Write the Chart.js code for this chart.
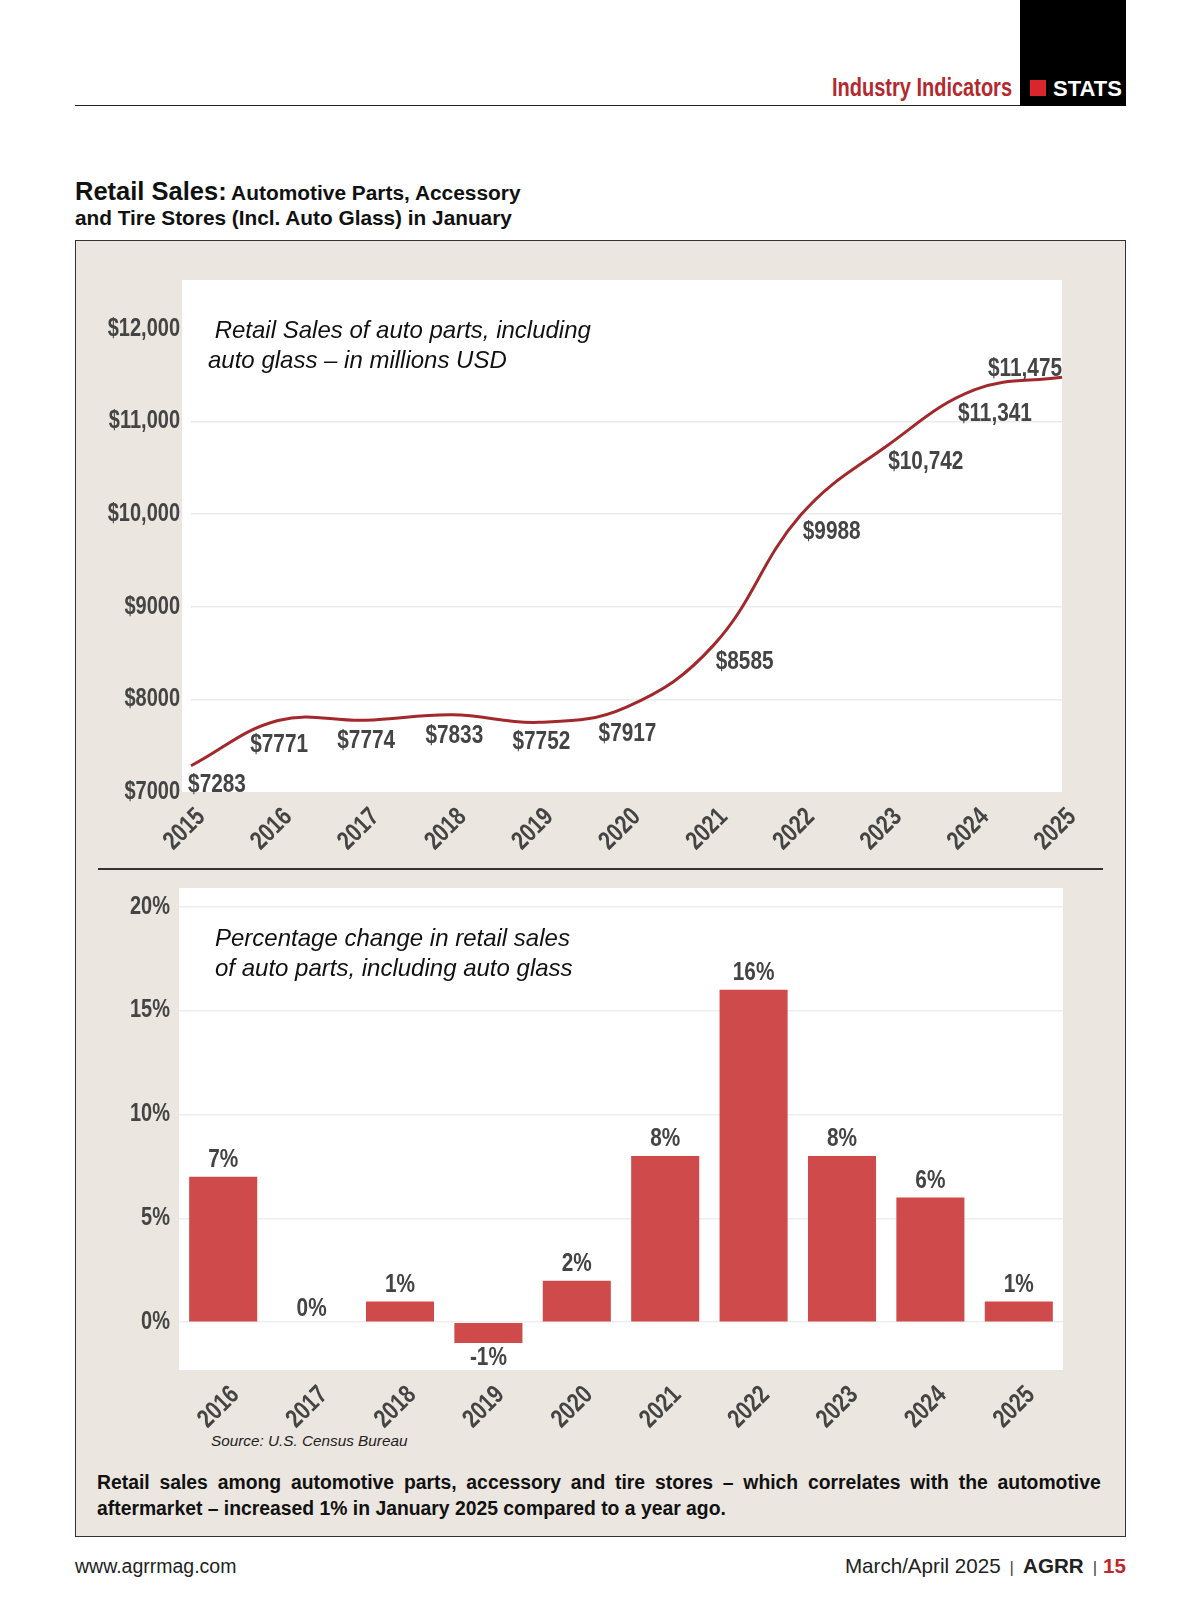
<!DOCTYPE html>
<html><head><meta charset="utf-8">
<script src="https://cdn.jsdelivr.net/npm/chart.js@4"></script>
<style>
body{margin:0;width:1200px;height:1613px;background:#fff;position:relative;overflow:hidden;font-family:"Liberation Sans",Arial,sans-serif;}
.abs{position:absolute;white-space:nowrap;}
</style></head><body>

<!-- header -->
<div class="abs" style="left:1020px;top:0;width:106px;height:106px;background:#000;"></div>
<div class="abs" style="left:1030px;top:80px;width:16px;height:16px;background:#d9262c;"></div>
<div class="abs" style="left:1053px;top:78px;font-size:22px;line-height:22px;font-weight:bold;color:#fff;">STATS</div>
<div class="abs" style="left:832px;top:75px;font-size:25px;line-height:25px;font-weight:bold;color:#b3292e;transform:scaleX(0.8);transform-origin:left top;">Industry Indicators</div>
<div class="abs" style="left:75px;top:105px;width:945px;height:1px;background:#222;"></div>

<!-- title -->
<div class="abs" style="left:75px;top:179px;line-height:25px;font-weight:bold;color:#111;"><span style="font-size:25.5px;">Retail Sales:</span> <span style="font-size:20.9px;">Automotive Parts, Accessory</span></div>
<div class="abs" style="left:75px;top:208px;font-size:20.8px;line-height:20px;font-weight:bold;color:#111;">and Tire Stores (Incl. Auto Glass) in January</div>

<!-- box -->
<div class="abs" style="left:75px;top:240px;width:1051px;height:1297px;box-sizing:border-box;border:1px solid #333;background:#ebe6df;"></div>
<div class="abs" style="left:98px;top:868px;width:1005px;height:1.5px;background:#333;"></div>

<canvas id="top" class="abs" width="1049" height="628" style="left:75px;top:240px;"></canvas>
<canvas id="bottom" class="abs" width="1049" height="560" style="left:75px;top:869px;"></canvas>

<div class="abs" style="left:208px;top:315px;font-size:24px;line-height:30px;font-style:italic;color:#111;">&nbsp;Retail Sales of auto parts, including<br>auto glass – in millions USD</div>
<div class="abs" style="left:215px;top:923px;font-size:24px;line-height:30px;font-style:italic;color:#111;">Percentage change in retail sales<br>of auto parts, including auto glass</div>

<div class="abs" style="left:211px;top:1433px;font-size:15.3px;line-height:15px;font-style:italic;color:#222;">Source: U.S. Census Bureau</div>

<div class="abs" style="left:97px;top:1469px;width:1038px;font-size:20px;line-height:26px;font-weight:bold;color:#111;text-align:justify;text-align-last:justify;white-space:normal;transform:scaleX(0.967);transform-origin:left top;">Retail sales among automotive parts, accessory and tire stores – which correlates with the automotive</div>
<div class="abs" style="left:97px;top:1495px;font-size:20px;line-height:26px;font-weight:bold;color:#111;transform:scaleX(0.967);transform-origin:left top;">aftermarket – increased 1% in January 2025 compared to a year ago.</div>

<!-- footer -->
<div class="abs" style="left:75px;top:1556px;font-size:19.5px;line-height:20px;color:#222;">www.agrrmag.com</div>
<div class="abs" style="right:74px;top:1556px;font-size:20.6px;line-height:20px;color:#222;">March/April 2025<span style="color:#444;font-size:17px;padding:0 9px;">|</span><b>AGRR</b><span style="color:#444;font-size:17px;padding:0 6px 0 9px;">|</span><b style="color:#c0272d;">15</b></div>

<script>
// ---- data ----
const years = ['2015','2016','2017','2018','2019','2020','2021','2022','2023','2024','2025'];
const salesValues = [7283, 7771, 7774, 7833, 7752, 7917, 8585, 9988, 10742, 11341, 11475];
const salesLabels = ['$7283','$7771','$7774','$7833','$7752','$7917','$8585','$9988','$10,742','$11,341','$11,475'];
const salesTicks = [7000, 8000, 9000, 10000, 11000, 12000];
const salesTickLabels = ['$7000','$8000','$9000','$10,000','$11,000','$12,000'];

const changeYears = ['2016','2017','2018','2019','2020','2021','2022','2023','2024','2025'];
const changeValues = [7, 0, 1, -1, 2, 8, 16, 8, 6, 1];
const changeTicks = [0, 5, 10, 15, 20];
const changeTickLabels = ['0%','5%','10%','15%','20%'];

// ---- styling ----
const FONT = '"Liberation Sans",Arial,sans-serif';
const TEXT = '#444444';
const salesLabelOffsets = [[26,19],[1,24],[1,21],[2,21],[2,20],[1,27],[31,17],[31,17],[38,17],[20,24],[-37,-8]];

// narrow (condensed) lettering: compress glyphs horizontally around their anchor
const condense = {
  id: 'condense',
  beforeDraw(chart) {
    const c = chart.ctx;
    if (c._condensed) return;
    const orig = c.fillText.bind(c);
    c.fillText = function (t, x, y) { this.save(); this.translate(x, y); this.scale(0.8, 1); orig(t, 0, 0); this.restore(); };
    c._condensed = true;
  }
};

const plotBg = {
  id: 'plotBg',
  beforeDraw(chart, args, opts) {
    const a = chart.chartArea, c = chart.ctx;
    c.save(); c.fillStyle = '#ffffff';
    c.fillRect(a.left - (opts.extraLeft || 0), a.top, a.right - a.left + (opts.extraLeft || 0), a.bottom - a.top);
    c.restore();
  }
};

const pointLabels = {
  id: 'pointLabels',
  afterDatasetsDraw(chart, args, opts) {
    const c = chart.ctx;
    const meta = chart.getDatasetMeta(0);
    c.save();
    c.font = 'bold 26px ' + FONT;
    c.fillStyle = TEXT;
    c.textAlign = 'center';
    c.textBaseline = 'middle';
    meta.data.forEach((el, i) => {
      if (opts.mode === 'line') {
        c.fillText(opts.labels[i], el.x + salesLabelOffsets[i][0], el.y + salesLabelOffsets[i][1]);
      } else {
        const v = chart.data.datasets[0].data[i];
        const y = v > 0 ? Math.min(el.y, el.base) - 17 : (v === 0 ? el.base - 13 : Math.max(el.y, el.base) + 15);
        c.fillText(opts.labels[i], el.x, y);
      }
    });
    c.restore();
  }
};

Chart.defaults.animation = false;

new Chart(document.getElementById('top'), {
  type: 'line',
  data: { labels: years, datasets: [{ data: salesValues, borderColor: '#a3282c', borderWidth: 3, pointRadius: 0, tension: 0.4, fill: false }] },
  options: {
    responsive: false, maintainAspectRatio: false,
    layout: { padding: { top: 40, right: 62, left: 0, bottom: 0 } },
    plugins: { legend: { display: false }, tooltip: { enabled: false },
      plotBg: { extraLeft: 9 }, pointLabels: { mode: 'line', labels: salesLabels } },
    scales: {
      y: {
        min: 7000, max: 12525,
        afterBuildTicks: s => { s.ticks = salesTicks.map(v => ({ value: v })); },
        afterFit: s => { s.width = 116; s.paddingTop = 0; s.paddingBottom = 0; },
        border: { display: false },
        grid: { drawTicks: false, color: ctx => (ctx.tick && (ctx.tick.value === 12000 || ctx.tick.value === 7000)) ? 'rgba(0,0,0,0)' : '#ebebeb', lineWidth: 1.5 },
        ticks: { padding: 11, color: TEXT, font: { family: FONT, size: 25, weight: 'bold' },
          callback: v => salesTickLabels[salesTicks.indexOf(v)] }
      },
      x: {
        afterFit: s => { s.height = 76; },
        border: { display: false },
        grid: { display: false, drawTicks: false },
        ticks: { minRotation: 45, maxRotation: 45, padding: 10, labelOffset: 10, color: TEXT, font: { family: FONT, size: 26, weight: 'bold' } }
      }
    }
  },
  plugins: [condense, plotBg, pointLabels]
});

new Chart(document.getElementById('bottom'), {
  type: 'bar',
  data: { labels: changeYears, datasets: [{ data: changeValues, backgroundColor: '#ce4a4b', categoryPercentage: 1, barPercentage: 0.77 }] },
  options: {
    responsive: false, maintainAspectRatio: false,
    layout: { padding: { top: 19, right: 61, left: 0, bottom: 0 } },
    plugins: { legend: { display: false }, tooltip: { enabled: false },
      plotBg: { extraLeft: 0 }, pointLabels: { mode: 'bar', labels: changeValues.map(v => v + '%') } },
    scales: {
      y: {
        min: -2.3, max: 20.9,
        afterBuildTicks: s => { s.ticks = changeTicks.map(v => ({ value: v })); },
        afterFit: s => { s.width = 104; s.paddingTop = 0; s.paddingBottom = 0; },
        border: { display: false },
        grid: { drawTicks: false, color: '#eeeeee', lineWidth: 1.5 },
        ticks: { padding: 9, color: TEXT, font: { family: FONT, size: 25, weight: 'bold' },
          callback: v => changeTickLabels[changeTicks.indexOf(v)] }
      },
      x: {
        afterFit: s => { s.height = 59; },
        border: { display: false },
        grid: { display: false, drawTicks: false },
        ticks: { minRotation: 45, maxRotation: 45, padding: 10, labelOffset: 12, color: TEXT, font: { family: FONT, size: 26, weight: 'bold' } }
      }
    }
  },
  plugins: [condense, plotBg, pointLabels]
});
</script>
</body></html>
